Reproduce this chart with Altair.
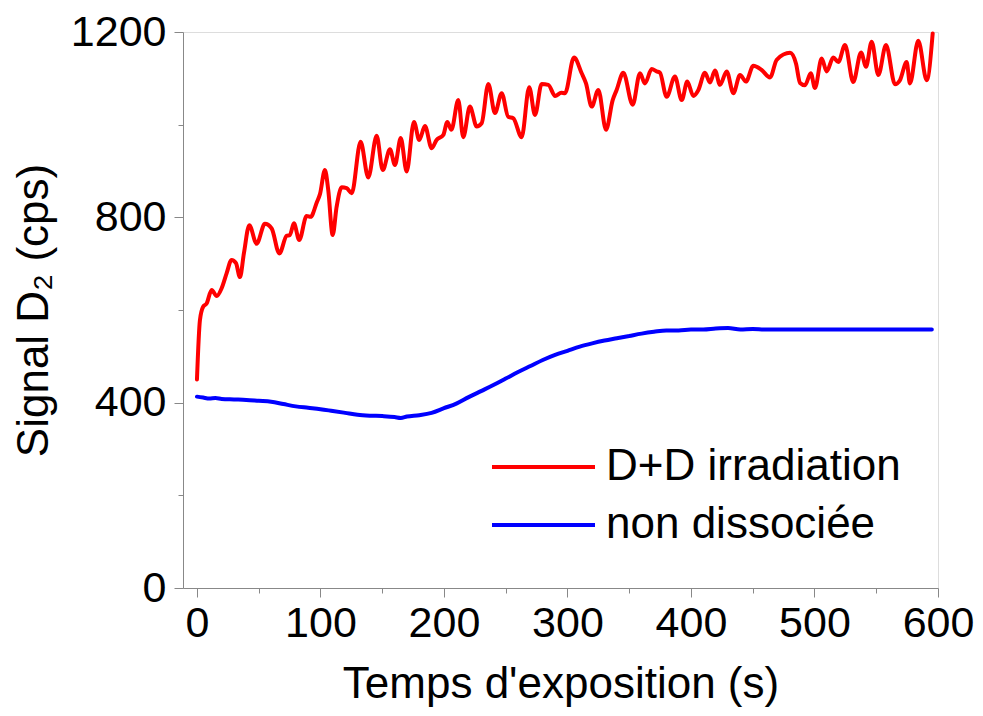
import altair as alt
import pandas as pd

# ---- data ----
red_t = [0, 2.4, 5, 7.8, 11.9, 16, 20, 24, 28, 31.6, 34.8, 38, 42.4, 48.3, 55, 60.5, 66.7, 72.6, 75.3,
         78.5, 82.8, 88.8, 92, 97, 99.6, 103.6, 106.3, 109.9, 113.1, 117.2, 121.2, 125.3, 132.5, 138.7,
         145.5, 150.4, 156.3, 160.3, 165, 169.8, 175.7, 180, 184.6, 190, 194, 199.5, 202.7, 206, 211.6,
         215.6, 221, 226.5, 230.5, 235.9, 241.3, 246.7, 252, 256.1, 262.9, 269, 273.7, 279.1, 284.5,
         290, 295, 298, 305.3, 311.5, 315, 319.6, 325, 331.2, 336.6, 339.8, 345.2, 352.8, 358.7, 362.7,
         368.2, 372.2, 374.9, 380.3, 387, 392.5, 397, 401.9, 406, 411.3, 415.4, 419.4, 423.5, 428.9,
         434.3, 439.7, 444.5, 450.5, 457.2, 464, 469.4, 480.2, 485, 488.3, 492.3, 497, 500.4, 505.8,
         509.9, 515.2, 519.3, 524.7, 531.4, 537.7, 541.7, 546.3, 551.7, 557.9, 565.2, 569.2, 574.6,
         577.3, 584, 590.9, 595.7]
red_v = [450, 578, 607, 614, 643, 630, 647, 679, 708, 701, 671, 722, 783, 743, 786, 776, 722, 760, 762,
         787, 751, 803, 801, 832, 850, 902, 859, 762, 823, 865, 863, 852, 963, 886,
         976, 902, 947, 913, 971, 899, 1006, 967, 997, 949, 967, 978, 1006, 989, 1053,
         973, 1039, 996, 1003, 1088, 1025, 1068, 1017, 1014, 973, 1081, 1021, 1088, 1086,
         1062, 1069, 1068, 1145, 1111, 1089, 1039, 1075, 989, 1053, 1075, 1112, 1043, 1111, 1089,
         1120, 1115, 1112, 1060, 1104, 1053, 1093, 1062, 1075, 1112, 1091, 1117, 1086, 1115,
         1068, 1107, 1093, 1127, 1118, 1102, 1140, 1155, 1132, 1090, 1085, 1111, 1079, 1143,
         1115, 1145, 1135, 1172, 1092, 1156, 1125, 1179, 1107, 1172, 1087, 1096, 1135,
         1089, 1181, 1096, 1197]

blue_t = [0, 5, 10, 15, 20, 30, 40, 50, 60, 70, 80, 90, 100, 110, 120, 130, 140, 150, 160, 165, 170,
          180, 190, 200, 210, 220, 230, 240, 250, 260, 270, 280, 290, 300, 310, 320, 330, 340, 350,
          360, 370, 380, 390, 400, 410, 420, 430, 440, 450, 460, 480, 500, 520, 540, 560, 580, 595]
blue_v = [413, 411, 409, 410, 408, 407, 406, 404, 402, 397, 392, 389, 386, 382, 378, 374, 372, 371, 369,
          367, 370, 373, 378, 388, 398, 412, 425, 438, 452, 466, 479, 492, 503, 512, 521, 528, 534,
          539, 544, 549, 553, 556, 556, 558, 558, 560, 561, 558, 559, 558, 558, 558, 558, 558, 558,
          558, 558]

series_names = ["D+D irradiation", "non dissociée"]
series_colors = ["#FF0000", "#0000FF"]

x_ticks = list(range(0, 601, 50))
y_ticks = list(range(0, 1201, 200))

df = pd.concat([
    pd.DataFrame({"t": red_t, "v": red_v, "serie": series_names[0]}),
    pd.DataFrame({"t": blue_t, "v": blue_v, "serie": series_names[1]}),
])

FONT = "Liberation Sans"

x_axis = alt.Axis(
    values=x_ticks,
    format="d",
    labelExpr="datum.value % 100 === 0 ? datum.label : ''",
    tickSize={"condition": {"test": "datum.value % 100 === 0", "value": 9}, "value": 5},
    title="Temps d'exposition (s)",
    grid=False,
    labelFontSize=43, titleFontSize=44, titleFontWeight="normal",
    labelPadding=5, titlePadding=17,
    labelFlush=False,
)
y_axis = alt.Axis(
    values=y_ticks,
    format="d",
    labelExpr="datum.value % 400 === 0 ? datum.label : ''",
    tickSize={"condition": {"test": "datum.value % 400 === 0", "value": 9}, "value": 5},
    title="Signal D₂ (cps)",
    grid=False,
    labelFontSize=43, titleFontSize=44, titleFontWeight="normal",
    labelPadding=8, titlePadding=14,
    labelFlush=False,
)

chart = alt.Chart(df).mark_line(strokeWidth=4, interpolate="monotone", strokeCap="round").encode(
    x=alt.X("t:Q", scale=alt.Scale(domain=[-11.3, 600], nice=False, zero=False), axis=x_axis),
    y=alt.Y("v:Q", scale=alt.Scale(domain=[0, 1200], nice=False), axis=y_axis),
    color=alt.Color(
        "serie:N",
        scale=alt.Scale(domain=series_names, range=series_colors),
        legend=alt.Legend(
            title=None, orient="none", legendX=307, legendY=413,
            symbolType="stroke", symbolSize=10609, symbolStrokeWidth=4,
            clipHeight=44, rowPadding=14, labelFontSize=44, labelOffset=9,
            labelLimit=1000, labelFont=FONT, padding=0, labelColor="black",
        ),
    ),
    detail="serie:N",
).properties(
    width=755, height=556,
    autosize=alt.AutoSizeParams(type="none"),
    padding={"left": 175, "top": 24, "right": 37, "bottom": 120},
).configure_view(
    stroke="black", strokeWidth=1.5
).configure_axis(
    domainColor="black", domainWidth=1.5, tickColor="black", tickWidth=1.5,
    labelColor="black", titleColor="black", labelFont=FONT, titleFont=FONT,
    titleFontWeight="normal",
).configure(background="white")

chart.save("out.html", embed_options={"renderer": "svg", "actions": False})
